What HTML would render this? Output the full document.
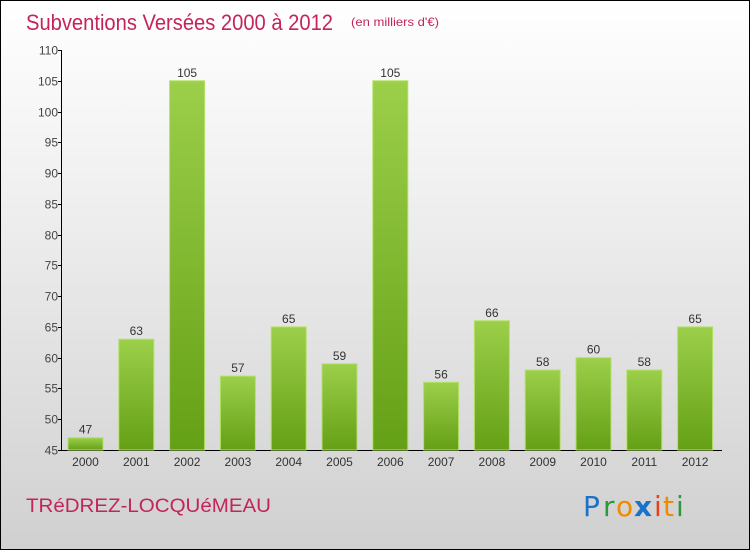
<!DOCTYPE html>
<html><head><meta charset="utf-8"><style>
body{margin:0;}
#c{width:750px;height:550px;position:relative;box-sizing:border-box;border:1px solid #000;background:linear-gradient(#ffffff 0%,#f2f2f2 30%,#d0d0d0 100%);overflow:hidden;font-family:"Liberation Sans",sans-serif;}
</style></head><body>
<div id="c">
<svg id="s" width="750" height="550" style="position:absolute;left:-1px;top:-1px">
<defs><linearGradient id="g" x1="0" y1="0" x2="0" y2="1"><stop offset="0" stop-color="#9ccf4a"/><stop offset="1" stop-color="#64a016"/></linearGradient></defs>
<text x="26" y="30" font-size="22" fill="#c4245a" textLength="307" lengthAdjust="spacingAndGlyphs">Subventions Versées 2000 à 2012</text>
<text x="351" y="26" font-size="12" fill="#c4245a" textLength="88" lengthAdjust="spacingAndGlyphs">(en milliers d'€)</text>
<text x="26" y="512" font-size="19" fill="#c4245a" textLength="245" lengthAdjust="spacingAndGlyphs">TRéDREZ-LOCQUéMEAU</text>
<g font-size="28" font-family="'DejaVu Sans',sans-serif">
<text x="583" y="516" fill="#1a73c9">P</text><text x="603" y="516" fill="#2a9a3a">r</text><text x="616" y="516" fill="#f08a00">o</text><text x="634" y="516" fill="#1a73c9" font-weight="bold">x</text><text x="654" y="516" fill="#e8401a">i</text><text x="663" y="516" fill="#f08a00">t</text><text x="676" y="516" fill="#2a9a3a">i</text>
</g>
<g id="ax"></g><g id="bars"></g>
</svg>
</div>
<script>
const years=["2000","2001","2002","2003","2004","2005","2006","2007","2008","2009","2010","2011","2012"];
const values=[47,63,105,57,65,59,105,56,66,58,60,58,65];
const yTicks=[45,50,55,60,65,70,75,80,85,90,95,100,105,110];
const NS="http://www.w3.org/2000/svg";
const yMin=45,yMax=110,plotTop=50,plotBot=450,x0=62,step=50.8,bw=35;
function y(v){return plotBot-(v-yMin)/(yMax-yMin)*(plotBot-plotTop);}
function xc(i){return 85.5+i*step;}
function mk(t,a,p,txt){const e=document.createElementNS(NS,t);for(const k in a)e.setAttribute(k,a[k]);if(txt!==undefined)e.textContent=txt;p.appendChild(e);return e;}
const ax=document.getElementById('ax'),bars=document.getElementById('bars');
let l=mk('line',{x1:x0-0.5,y1:plotTop,x2:x0-0.5,y2:plotBot,stroke:'#000'},ax);


l=mk('line',{x1:x0-0.5,y1:plotBot+0.5,x2:722,y2:plotBot+0.5,stroke:'#000'},ax);


yTicks.forEach(v=>{
 const yy=Math.round(y(v))+0.5;
 mk('line',{x1:x0-4,y1:yy,x2:x0,y2:yy,stroke:'#000'},ax);
 const t=mk('text',{x:x0-4,y:yy+4,'font-size':12,fill:'#444','text-anchor':'end'},ax,v);
 
 
});
values.forEach((v,i)=>{
 const r=mk('rect',{x:xc(i)-bw/2,y:y(v),width:bw,height:plotBot-y(v),fill:'url(#g)',stroke:'#b5e06a','stroke-width':1},bars);
 
 
 const t=mk('text',{x:xc(i),y:y(v)-4,'font-size':12,fill:'#333','text-anchor':'middle'},bars,v);
 
 
 const xl=mk('text',{x:xc(i),y:466,'font-size':12,fill:'#333','text-anchor':'middle'},bars,years[i]);
 
 
});
</script>
</body></html>
